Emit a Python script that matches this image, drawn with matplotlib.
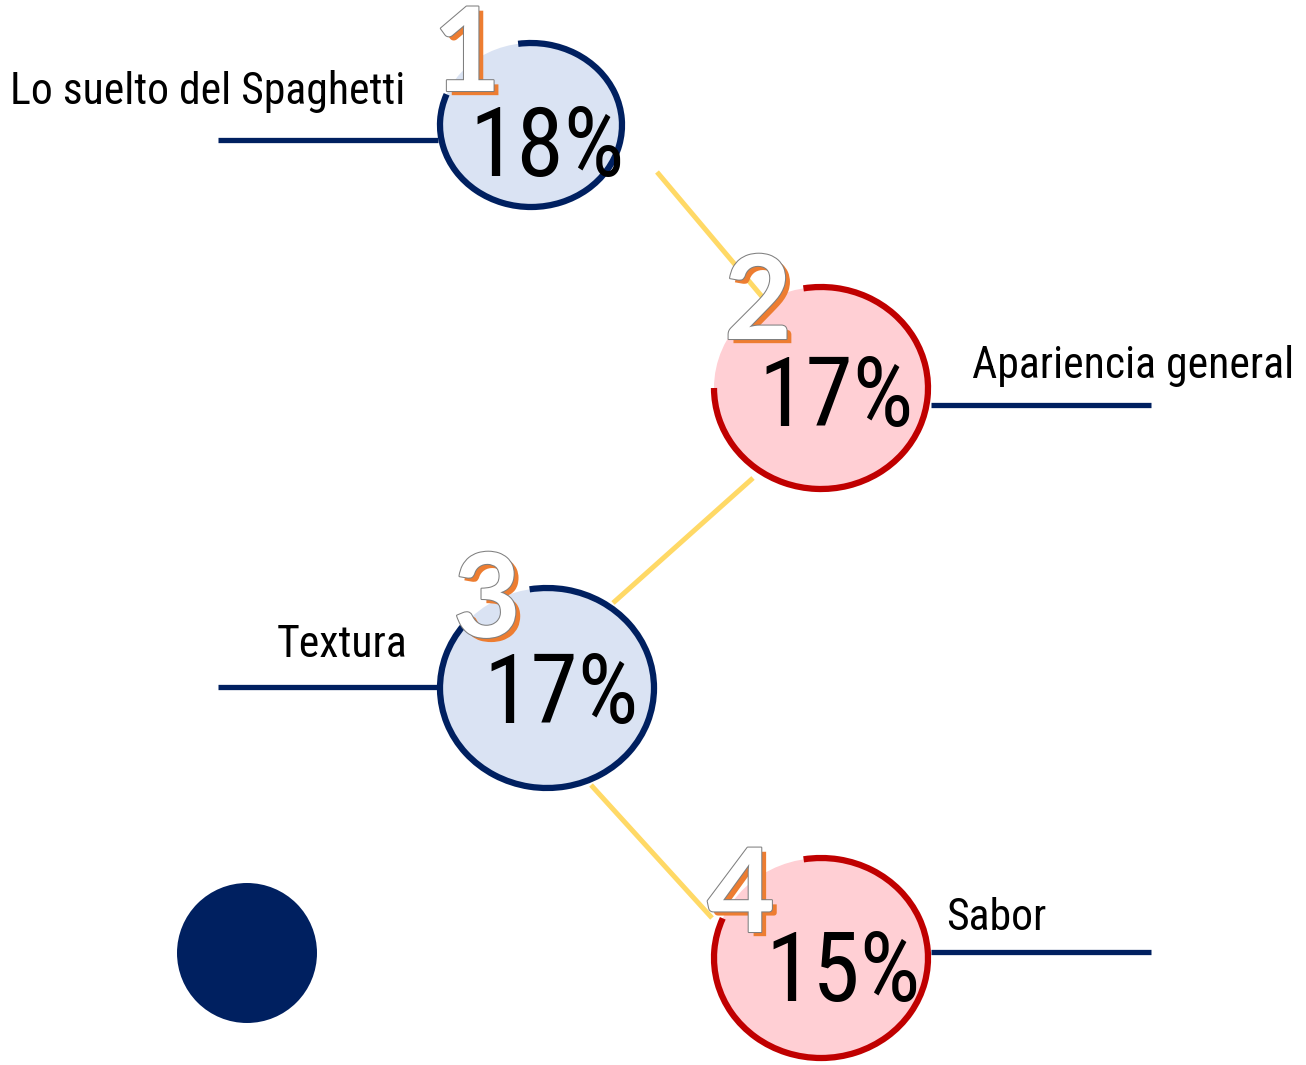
import matplotlib
matplotlib.use("Agg")
import matplotlib.pyplot as plt
from matplotlib.patches import Ellipse, Arc, Circle
import matplotlib.patheffects as pe

# datos
ranks = ["1", "2", "3", "4"]
percents = ["18%", "17%", "17%", "15%"]
labels = ["Lo suelto del Spaghetti", "Apariencia general", "Textura", "Sabor"]

W, H = 1306, 1065

NAVY = "#002060"
RED = "#C00000"
BLUE_FILL = "#DAE3F3"
PINK_FILL = "#FFCFD4"
YELLOW = "#FFD966"
ORANGE = "#ED7D31"

NARROW = ["Roboto Condensed", "Archivo Narrow", "Liberation Sans"]

# layout en pixeles (y hacia abajo)
centers = [(531, 125), (821, 388), (547, 688), (821, 958)]
radii = [(91, 82), (107, 101), (107, 100), (107, 100)]
gaps = [(99, 160), (100, 180), (100, 143), (100, 158)]
ring_cols = [NAVY, RED, NAVY, RED]
fill_cols = [BLUE_FILL, PINK_FILL, BLUE_FILL, PINK_FILL]
pct_pos = [(547, 176), (836, 426), (561, 723), (843, 1001)]
rank_pos = [(467, 91), (758, 339), (487, 637), (741, 932)]
label_pos = [(405, 104, "right"), (972, 378, "left"), (407, 657, "right"), (946, 930, "left")]
hlines = [(218, 438, 140), (931, 1151, 405), (218, 437, 687), (931, 1151, 952)]
ylines = [((657, 172), (775, 312)), ((753, 478), (613, 603)), ((591, 785), (712, 918))]


def Y(y):
    return H - y


fig = plt.figure(figsize=(W / 100, H / 100), dpi=100)
ax = fig.add_axes([0, 0, 1, 1])
ax.set_xlim(0, W)
ax.set_ylim(0, H)
ax.axis("off")

for (x0, y0), (x1, y1) in ylines:
    ax.plot([x0, x1], [Y(y0), Y(y1)], color=YELLOW, lw=3.6, zorder=1, solid_capstyle="butt")

for x0, x1, y in hlines:
    ax.plot([x0, x1], [Y(y), Y(y)], color=NAVY, lw=3.8, zorder=1, solid_capstyle="butt")

for i in range(4):
    cx, cy = centers[i]
    rx, ry = radii[i]
    ax.add_patch(Ellipse((cx, Y(cy)), 2 * rx, 2 * ry, facecolor=fill_cols[i], edgecolor="none", zorder=2))
    g0, g1 = gaps[i]
    ax.add_patch(Arc((cx, Y(cy)), 2 * rx, 2 * ry, theta1=g1, theta2=g0 + 360,
                     color=ring_cols[i], lw=4.5, zorder=3))
    px, py = pct_pos[i]
    ax.text(px, Y(py), percents[i], ha="center", va="baseline", fontsize=69,
            family=NARROW, color="black", zorder=4)
    rx_, ry_ = rank_pos[i]
    ax.text(rx_, Y(ry_), ranks[i], ha="center", va="baseline", fontsize=84,
            family="Lato", weight="bold", color="white", zorder=5,
            path_effects=[pe.SimplePatchShadow(offset=(3.5, -3), shadow_rgbFace=ORANGE, alpha=1),
                          pe.Stroke(linewidth=1.5, foreground="#7F7F7F"), pe.Normal()])
    lx, ly, ha = label_pos[i]
    ax.text(lx, Y(ly), labels[i], ha=ha, va="baseline", fontsize=31.5, family=NARROW,
            color="black", zorder=4)

ax.add_patch(Circle((247, Y(953)), 70, facecolor=NAVY, edgecolor="none", zorder=2))

fig.savefig("out.png", dpi=100)
